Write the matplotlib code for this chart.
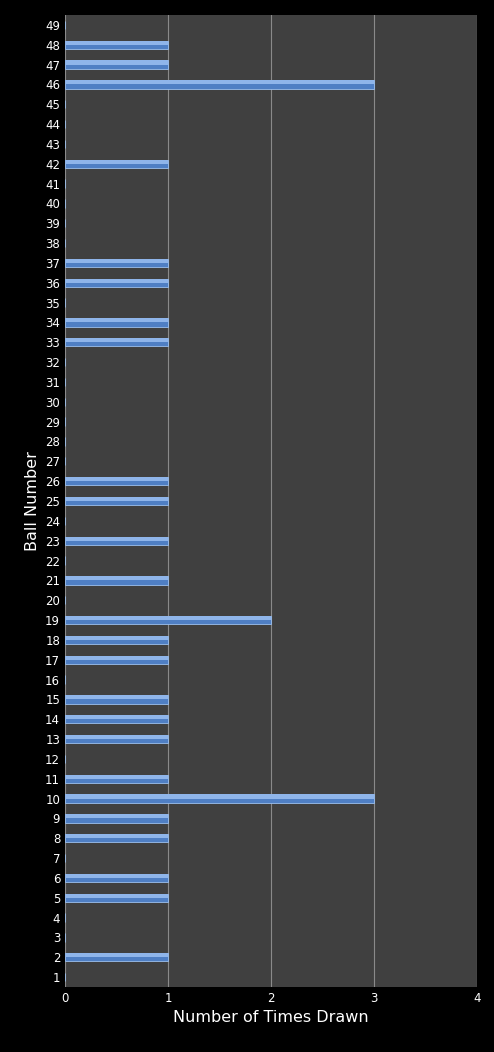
import matplotlib
matplotlib.use("Agg")
import matplotlib.pyplot as plt

balls = list(range(1, 50))
drawn_once = [2, 5, 6, 8, 9, 11, 13, 14, 15, 17, 18, 21, 23, 25, 26, 33, 34, 36, 37, 42, 47, 48]
drawn_twice = [19]
drawn_three = [10, 46]

counts = []
for b in balls:
    if b in drawn_three:
        counts.append(3)
    elif b in drawn_twice:
        counts.append(2)
    elif b in drawn_once:
        counts.append(1)
    else:
        counts.append(0)

fig = plt.figure(figsize=(4.94, 10.52), dpi=100, facecolor="black")
ax = fig.add_axes([65 / 494, 65 / 1052, 412 / 494, 972 / 1052], facecolor="#404040")

h = 0.42
ax.barh(balls, counts, height=h, color="#4f7fc4", edgecolor="#9cc0ee", linewidth=0.6, zorder=3)
# lighter upper half to mimic the bevelled gradient
ax.barh([b + h / 4 for b in balls], counts, height=h / 2, color="#8fb5ea", linewidth=0, zorder=4)

ax.set_xlim(0, 4)
ax.set_ylim(0.5, 49.5)
ax.set_xticks(range(5))
ax.set_yticks(balls)
ax.xaxis.grid(True, color="#8a8a8a", linewidth=0.8, zorder=0)
ax.set_axisbelow(True)
for s in ax.spines.values():
    s.set_visible(False)
ax.tick_params(colors="white", labelsize=8.5, length=0)
ax.set_xlabel("Number of Times Drawn", color="white", fontsize=11.5)
ax.set_ylabel("Ball Number", color="white", fontsize=11.5, labelpad=4)

fig.savefig("out.png", dpi=100, facecolor="black")
